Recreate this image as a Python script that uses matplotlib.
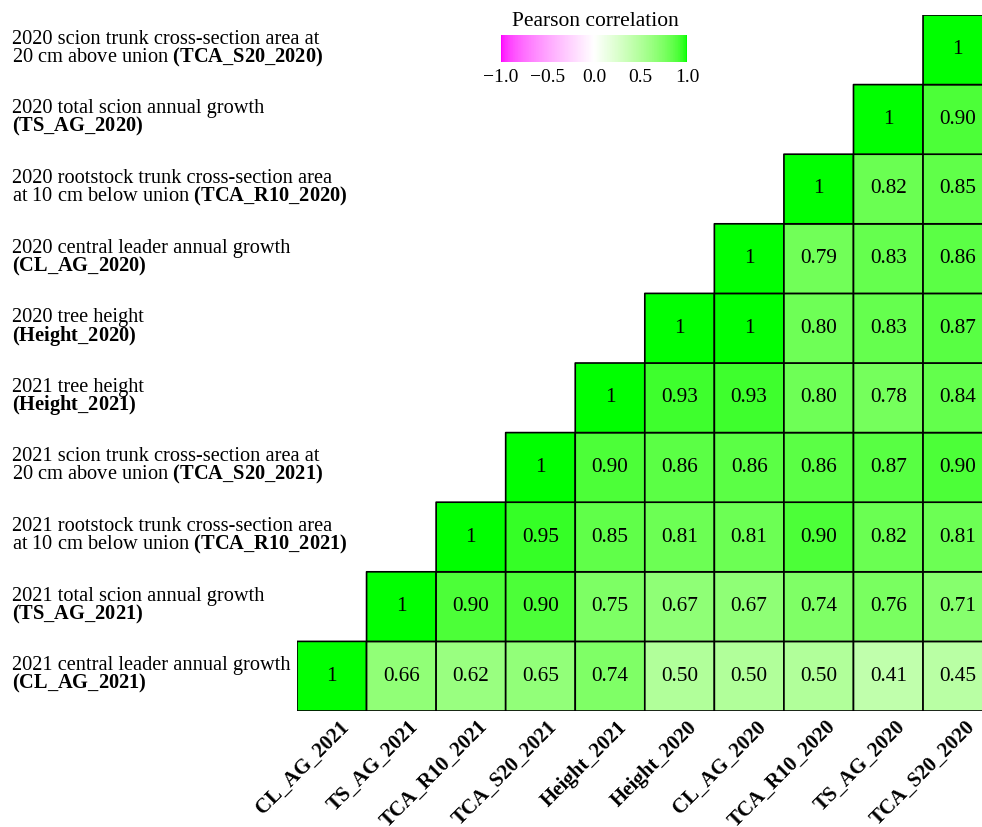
import numpy as np
import matplotlib
matplotlib.use('Agg')
import matplotlib.pyplot as plt
from matplotlib.colors import ListedColormap
from matplotlib.transforms import blended_transform_factory, ScaledTranslation

plt.rcParams['font.family'] = 'Liberation Serif'
plt.rcParams['mathtext.fontset'] = 'custom'
plt.rcParams['mathtext.rm'] = 'Liberation Serif'
plt.rcParams['mathtext.bf'] = 'Liberation Serif:bold'

# variables, bottom row / left column first
codes = ['CL_AG_2021', 'TS_AG_2021', 'TCA_R10_2021', 'TCA_S20_2021', 'Height_2021',
         'Height_2020', 'CL_AG_2020', 'TCA_R10_2020', 'TS_AG_2020', 'TCA_S20_2020']
desc1 = ['2021 central leader annual growth', '2021 total scion annual growth',
         '2021 rootstock trunk cross-section area', '2021 scion trunk cross-section area at',
         '2021 tree height', '2020 tree height', '2020 central leader annual growth',
         '2020 rootstock trunk cross-section area', '2020 total scion annual growth',
         '2020 scion trunk cross-section area at']
desc2 = ['', '', 'at 10 cm below union ', '20 cm above union ', '', '', '',
         'at 10 cm below union ', '', '20 cm above union ']

# correlations of each variable with itself and the ones to its right
r_CL_AG_2021 = [1, 0.66, 0.62, 0.65, 0.74, 0.50, 0.50, 0.50, 0.41, 0.45]
r_TS_AG_2021 = [1, 0.90, 0.90, 0.75, 0.67, 0.67, 0.74, 0.76, 0.71]
r_TCA_R10_2021 = [1, 0.95, 0.85, 0.81, 0.81, 0.90, 0.82, 0.81]
r_TCA_S20_2021 = [1, 0.90, 0.86, 0.86, 0.86, 0.87, 0.90]
r_Height_2021 = [1, 0.93, 0.93, 0.80, 0.78, 0.84]
r_Height_2020 = [1, 1, 0.80, 0.83, 0.87]
r_CL_AG_2020 = [1, 0.79, 0.83, 0.86]
r_TCA_R10_2020 = [1, 0.82, 0.85]
r_TS_AG_2020 = [1, 0.90]
r_TCA_S20_2020 = [1]
rows = [r_CL_AG_2021, r_TS_AG_2021, r_TCA_R10_2021, r_TCA_S20_2021, r_Height_2021,
        r_Height_2020, r_CL_AG_2020, r_TCA_R10_2020, r_TS_AG_2020, r_TCA_S20_2020]

cbar_ticks = [-1, -0.5, 0, 0.5, 1]
cbar_labels = ['\u22121.0', '\u22120.5', '0.0', '0.5', '1.0']

n = len(codes)
M = np.full((n, n), np.nan)
for i, r in enumerate(rows):
    M[i, i:] = r

# magenta - white - green, interpolated in Lab
RGB2XYZ = np.array([[0.4124, 0.3576, 0.1805],
                    [0.2126, 0.7152, 0.0722],
                    [0.0193, 0.1192, 0.9505]])
WHITE = np.array([0.95047, 1.0, 1.08883])


def to_lab(rgb):
    c = np.array(rgb, float)
    c = np.where(c > 0.04045, ((c + 0.055) / 1.055) ** 2.4, c / 12.92)
    xyz = RGB2XYZ @ c / WHITE
    f = np.where(xyz > 0.008856, np.cbrt(xyz), 7.787 * xyz + 16 / 116)
    return np.array([116 * f[1] - 16, 500 * (f[0] - f[1]), 200 * (f[1] - f[2])])


def from_lab(lab):
    L, a, b = lab
    fy = (L + 16) / 116
    f = np.array([fy + a / 500, fy, fy - b / 200])
    xyz = np.where(f ** 3 > 0.008856, f ** 3, (f - 16 / 116) / 7.787) * WHITE
    c = np.linalg.solve(RGB2XYZ, xyz)
    c = np.where(c > 0.0031308, 1.055 * np.abs(c) ** (1 / 2.4) - 0.055, 12.92 * c)
    return np.clip(c, 0, 1)


lab_lo, lab_mid, lab_hi = to_lab([1, 0, 1]), to_lab([1, 1, 1]), to_lab([0, 1, 0])
cols = []
for t in np.linspace(-1, 1, 257):
    end = lab_lo if t < 0 else lab_hi
    cols.append(from_lab(lab_mid + abs(t) * (end - lab_mid)))
cmap = ListedColormap(cols)

W, H = 982, 827
fig = plt.figure(figsize=(W / 100, H / 100), dpi=100)
ax = fig.add_axes([297 / W, 1 - 711 / H, 695.6 / W, 696 / H])
ax.set_xlim(0, n)
ax.set_ylim(0, n)
ax.axis('off')

mesh = ax.pcolor(np.arange(n + 1), np.arange(n + 1), np.ma.masked_invalid(M), cmap=cmap,
                 vmin=-1, vmax=1, edgecolors='black', linewidth=1.2)

for i in range(n):
    for j in range(i, n):
        v = M[i, j]
        s = '1' if v == 1 else '%.2f' % v
        ax.text(j + 0.5, i + 0.5, s, ha='center', va='center', fontsize=15.3)

# row labels on the left
trans = blended_transform_factory(fig.transFigure, ax.transData)
cell_px = 69.6
for i in range(n):
    code = codes[i].replace('_', r'\_')
    ax.text(12 / W, i + 0.5 + 6 / cell_px, desc1[i], transform=trans,
            ha='left', va='baseline', fontsize=14.7)
    ax.text(12 / W, i + 0.5 - 12.5 / cell_px, desc2[i] + r'$\mathbf{(' + code + ')}$',
            transform=trans, ha='left', va='baseline', fontsize=14.7)

# column labels underneath
shift = ScaledTranslation(14 / 100, -13 / 100, fig.dpi_scale_trans)
for j in range(n):
    ax.text(j + 0.5, 0, codes[j], transform=ax.transData + shift, rotation=45,
            rotation_mode='anchor', ha='right', va='center', fontsize=15, fontweight='bold')

cax = fig.add_axes([501 / W, 1 - 62 / H, 186 / W, 27 / H])
cb = fig.colorbar(mesh, cax=cax, orientation='horizontal', ticks=cbar_ticks)
cb.outline.set_visible(False)
cb.set_ticklabels(cbar_labels)
cax.tick_params(length=0, labelsize=14, pad=5)
fig.text(595 / W, 1 - 21 / H, 'Pearson correlation', ha='center', va='center', fontsize=15.5)

fig.savefig('out.png', dpi=100)
